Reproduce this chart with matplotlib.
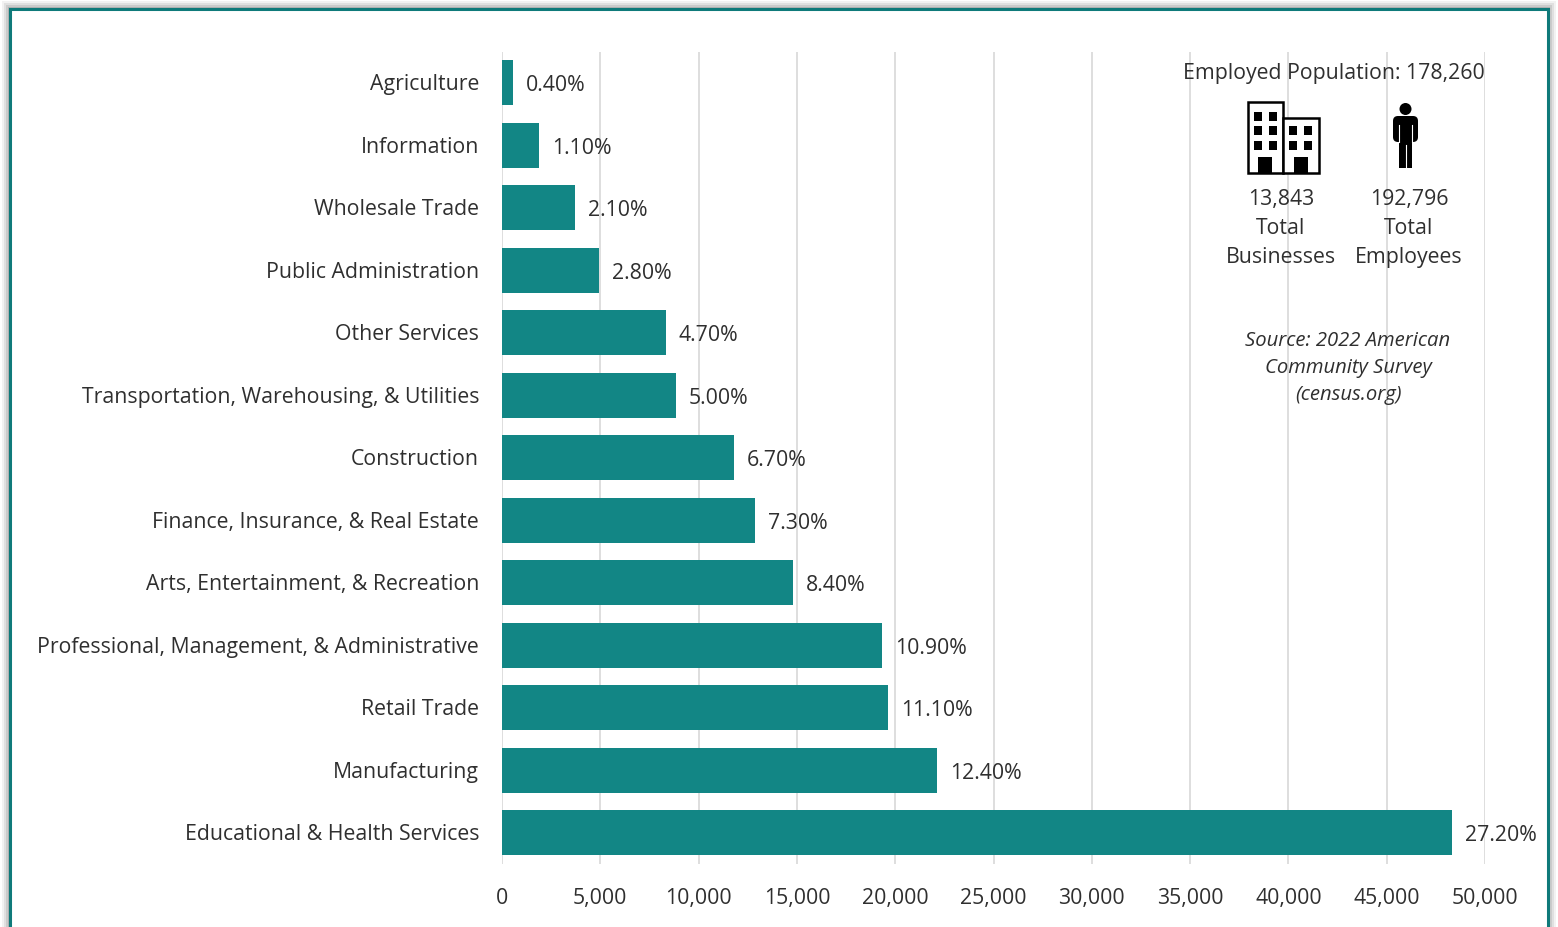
import matplotlib
matplotlib.use('Agg')
import matplotlib.pyplot as plt
from matplotlib.patches import Rectangle, Circle, FancyBboxPatch
from matplotlib.transforms import ScaledTranslation

plt.rcParams['font.family'] = ['Open Sans', 'DejaVu Sans']

W, H = 1558, 928
TEAL = '#128685'
DARK = '#2f2f2f'

# top to bottom, as in the picture
categories = ['Agriculture', 'Information', 'Wholesale Trade', 'Public Administration',
              'Other Services', 'Transportation, Warehousing, & Utilities', 'Construction',
              'Finance, Insurance, & Real Estate', 'Arts, Entertainment, & Recreation',
              'Professional, Management, & Administrative', 'Retail Trade', 'Manufacturing',
              'Educational & Health Services']
values = [560, 1880, 3710, 4930, 8340, 8850, 11800, 12870, 14800, 19330, 19630, 22130, 48320]
shares = ['0.40%', '1.10%', '2.10%', '2.80%', '4.70%', '5.00%', '6.70%', '7.30%',
          '8.40%', '10.90%', '11.10%', '12.40%', '27.20%']
x_ticks = [0, 5000, 10000, 15000, 20000, 25000, 30000, 35000, 40000, 45000, 50000]

fig = plt.figure(figsize=(W / 100, H / 100), dpi=100, facecolor='white')

# overlay in pixel coords for the frame and the icons
bg = fig.add_axes([0, 0, 1, 1], zorder=0)
bg.set_xlim(0, W)
bg.set_ylim(H, 0)
bg.axis('off')

# soft shadow round the frame
for i, a in zip([8, 6, 4, 2], [0.05, 0.07, 0.09, 0.12]):
    bg.add_patch(Rectangle((10 - i, 10 - i), 1538 + 2 * i, 940, fc='black', ec='none', alpha=a))
bg.add_patch(Rectangle((10, 10), 1538, 940, fc='white', ec='#0f7a7a', lw=2.2))

ax = fig.add_axes([502 / W, 1 - 865 / H, 983 / W, (865 - 52.5) / H], zorder=1)
ax.patch.set_alpha(0)
ax.barh(range(len(values)), values, height=0.715, color=TEAL, zorder=3)
ax.set_xlim(0, 50000)
ax.set_ylim(12.5, -0.5)
ax.set_yticks(range(len(categories)), categories)
ax.set_xticks(x_ticks, [f'{v:,}' for v in x_ticks])
ax.grid(axis='x', color='#d8d8d8', lw=1.2, zorder=0)
ax.tick_params(length=0, labelsize=15.3, labelcolor=DARK)
ax.tick_params(axis='y', pad=16.5)
ax.tick_params(axis='x', pad=16.5)
for s in ax.spines.values():
    s.set_visible(False)

# labels sit a bit higher than the bar centres
up = ScaledTranslation(0, 1.0 / 72, fig.dpi_scale_trans)
for lab in ax.get_yticklabels():
    lab.set_transform(lab.get_transform() + up)

for i, (v, lab) in enumerate(zip(values, shares)):
    ax.annotate(lab, (v, i), xytext=(13, -2), textcoords='offset pixels',
                va='center', ha='left', fontsize=15.3, color=DARK, zorder=4,
                annotation_clip=False)

# icons and side text go on top
top = fig.add_axes([0, 0, 1, 1], zorder=2)
top.set_xlim(0, W)
top.set_ylim(H, 0)
top.axis('off')

# building
top.add_patch(Rectangle((1248, 103), 35, 71, fc='white', ec='black', lw=1.8))
top.add_patch(Rectangle((1283, 119), 36, 55, fc='white', ec='black', lw=1.8))
for wx in [1254, 1269]:
    for wy in [113, 127, 142]:
        top.add_patch(Rectangle((wx, wy), 8.5, 8.5, fc='black', ec='none'))
for wx in [1289, 1304]:
    for wy in [127, 142]:
        top.add_patch(Rectangle((wx, wy), 8.5, 8.5, fc='black', ec='none'))
for dx in [1258, 1294]:
    top.add_patch(Rectangle((dx, 158), 14.5, 16, fc='black', ec='none'))

# person
top.add_patch(Circle((1405.5, 110), 6, fc='black', ec='none'))
top.add_patch(FancyBboxPatch((1396, 120), 19, 20, boxstyle='round,pad=3,rounding_size=5',
                             fc='black', ec='none'))
top.add_patch(Rectangle((1399, 135), 13.5, 34, fc='black', ec='none'))
top.plot([1399, 1399], [126, 143], color='white', lw=0.8)
top.plot([1412.5, 1412.5], [126, 143], color='white', lw=0.8)
top.plot([1405.7, 1405.7], [146, 169], color='white', lw=0.8)

side = dict(ha='center', va='center', fontsize=15.3, color=DARK)
top.text(1334, 73, 'Employed Population: 178,260', **side)
top.text(1281, 199, '13,843', **side)
top.text(1281, 229, 'Total', **side)
top.text(1281, 258, 'Businesses', **side)
top.text(1409, 199, '192,796', **side)
top.text(1409, 229, 'Total', **side)
top.text(1409, 258, 'Employees', **side)

src = dict(ha='center', va='center', fontsize=14.6, color=DARK, style='italic')
top.text(1348, 341, 'Source: 2022 American', **src)
top.text(1348, 368, 'Community Survey', **src)
top.text(1348, 395, '(census.org)', **src)

fig.savefig('out.png', dpi=100)
